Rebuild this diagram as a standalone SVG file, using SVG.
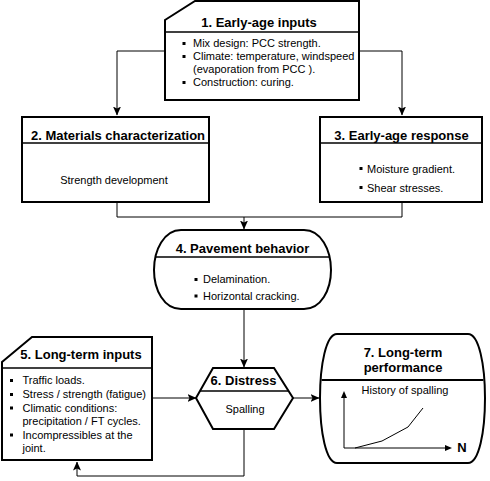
<svg xmlns="http://www.w3.org/2000/svg" width="490" height="481" viewBox="0 0 490 481">
<defs>
<marker id="arr" markerUnits="userSpaceOnUse" markerWidth="9" markerHeight="8" viewBox="0 0 9 8" refX="8.5" refY="4" orient="auto">
<path d="M0,0 L9,4 L0,8 L2,4 Z" fill="#000"/>
</marker>
<style>
.box{fill:#fff;stroke:#000;stroke-width:2}
.div{stroke:#000;stroke-width:1.6}
.con{fill:none;stroke:#000;stroke-width:1}
.t{font-family:"Liberation Sans",Arial,sans-serif;font-size:13px;font-weight:bold;fill:#000;text-anchor:middle}
.b{font-family:"Liberation Sans",Arial,sans-serif;font-size:11px;fill:#000}
.c{text-anchor:middle}
.bu{fill:#000}
</style>
</defs>
<rect width="490" height="481" fill="#fff"/>

<g id="connectors">
<path class="con" d="M165,51 H117 V115" marker-end="url(#arr)"/>
<path class="con" d="M359,51 H402 V115" marker-end="url(#arr)"/>
<path class="con" d="M117,202 V217 H402 V202"/>
<path class="con" d="M244,217 V229" marker-end="url(#arr)"/>
<path class="con" d="M244,310 V367" marker-end="url(#arr)"/>
<path class="con" d="M152,398 H196" marker-end="url(#arr)"/>
<path class="con" d="M293,398 H319" marker-end="url(#arr)"/>
<path class="con" d="M244,429 V476 H77 V462" marker-end="url(#arr)"/>
</g>

<g id="node1">
<path class="box" d="M165,20 L195,1 H359 V100 H165 Z"/>
<line class="div" x1="165" y1="32" x2="359" y2="32"/>
<text class="t" x="259" y="27">1. Early-age inputs</text>
<rect class="bu" x="182.5" y="42" width="3" height="3"/>
<rect class="bu" x="182.5" y="55" width="3" height="3"/>
<rect class="bu" x="182.5" y="81" width="3" height="3"/>
<text class="b" x="193" y="47">Mix design: PCC strength.</text>
<text class="b" x="193" y="60">Climate: temperature, windspeed</text>
<text class="b" x="193" y="73">(evaporation from PCC ).</text>
<text class="b" x="193" y="86">Construction: curing.</text>
</g>

<g id="node2">
<rect class="box" x="22" y="117" width="187" height="85"/>
<line class="div" x1="22" y1="143" x2="209" y2="143"/>
<text class="t" x="118" y="140">2. Materials characterization</text>
<text class="b c" x="114" y="184">Strength development</text>
</g>

<g id="node3">
<rect class="box" x="320" y="117" width="162" height="85"/>
<line class="div" x1="320" y1="143" x2="482" y2="143"/>
<text class="t" x="401.5" y="140">3. Early-age response</text>
<rect class="bu" x="359.5" y="167" width="3" height="3"/>
<rect class="bu" x="359.5" y="186" width="3" height="3"/>
<text class="b" x="367" y="172.5">Moisture gradient.</text>
<text class="b" x="367" y="191.5">Shear stresses.</text>
</g>

<g id="node4">
<path class="box" d="M181,230 H304 C321,230 331,250 331,270 C331,290 321,309 304,309 H181 C164,309 154,290 154,270 C154,250 164,230 181,230 Z"/>
<line class="div" x1="155.4" y1="257" x2="329.6" y2="257"/>
<text class="t" x="242.5" y="253">4. Pavement behavior</text>
<rect class="bu" x="194.5" y="278" width="3" height="3"/>
<rect class="bu" x="194.5" y="294.5" width="3" height="3"/>
<text class="b" x="203" y="283">Delamination.</text>
<text class="b" x="203" y="299.5">Horizontal cracking.</text>
</g>

<g id="node5">
<path class="box" d="M2,362 L32,337 H152 V460 H2 Z"/>
<line class="div" x1="2" y1="368" x2="152" y2="368"/>
<text class="t" x="81" y="359">5. Long-term inputs</text>
<rect class="bu" x="10" y="379" width="3" height="3"/>
<rect class="bu" x="10" y="393" width="3" height="3"/>
<rect class="bu" x="10" y="406.5" width="3" height="3"/>
<rect class="bu" x="10" y="433.5" width="3" height="3"/>
<text class="b" x="22.5" y="384">Traffic loads.</text>
<text class="b" x="22.5" y="398">Stress / strength (fatigue)</text>
<text class="b" x="22.5" y="411.5">Climatic conditions:</text>
<text class="b" x="22.5" y="425">precipitation / FT cycles.</text>
<text class="b" x="22.5" y="438.5">Incompressibles at the</text>
<text class="b" x="22.5" y="452">joint.</text>
</g>

<g id="node6">
<path class="box" d="M213,368 H274 L293,398 L274,429 H213 L196,398 Z"/>
<line class="div" x1="200" y1="391" x2="288.6" y2="391"/>
<text class="t" x="243.5" y="385">6. Distress</text>
<text class="b c" x="245" y="413">Spalling</text>
</g>

<g id="node7">
<path class="box" d="M337,334 H468 C479,334 485,365 485,398 C485,432 479,463 468,463 H337 C326,463 320,432 320,398 C320,365 326,334 337,334 Z"/>
<line x1="321.6" y1="380" x2="483.4" y2="380" stroke="#000" stroke-width="2"/>
<text class="t" x="403" y="356.5">7. Long-term</text>
<text class="t" x="403" y="371.5">performance</text>
<text class="b c" x="405" y="394">History of spalling</text>
<path class="con" d="M344,448 V394"/>
<path d="M344,391 L347,398 L341,398 Z" fill="#000"/>
<path class="con" d="M344,448 H449"/>
<path d="M452,448 L445,445 L445,451 Z" fill="#000"/>
<path class="con" d="M355,448 L382,441 L408,427 L423,408"/>
<text class="t" x="462" y="452">N</text>
</g>
</svg>
